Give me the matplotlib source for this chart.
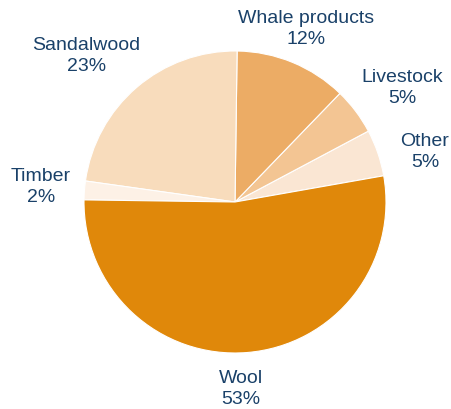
import numpy as np
import matplotlib.pyplot as plt

plt.rcParams['font.family'] = ['Liberation Sans', 'DejaVu Sans']

# export shares, counter-clockwise from the right
labels = ["Other", "Livestock", "Whale products", "Sandalwood", "Timber", "Wool"]
shares = [5, 5, 12, 23, 2, 53]
colors = ["#FAE6D3", "#F3C593", "#ECAC65", "#F8DCBC", "#FDF1E6", "#E0880A"]

# label placement: distance from centre (in radii) and a small angular nudge
label_dist = [1.30, 1.34, 1.24, 1.38, 1.29, 1.24]
label_turn = [-4.3, -2.7, 0.0, 4.8, 0.0, -2.8]

fig = plt.figure(figsize=(4.52, 4.09), dpi=100)
ax = fig.add_axes([0, 0, 1, 1])

wedges, _ = ax.pie(shares, colors=colors, startangle=10, counterclock=True,
                   wedgeprops=dict(edgecolor="white", linewidth=0.8))

text_color = "#1A4169"
for w, lab, s, d, t in zip(wedges, labels, shares, label_dist, label_turn):
    mid = np.deg2rad((w.theta1 + w.theta2) / 2 + t)
    ax.text(d * np.cos(mid), d * np.sin(mid), f"{lab}\n{s}%", ha="center",
            va="center", fontsize=14, color=text_color, linespacing=1.3)

ax.set_aspect("auto")
ax.set_xlim(-235 / 151, (452 - 235) / 151)
ax.set_ylim(-207 / 151, 202 / 151)
ax.axis("off")

fig.savefig("out.png", dpi=100)
